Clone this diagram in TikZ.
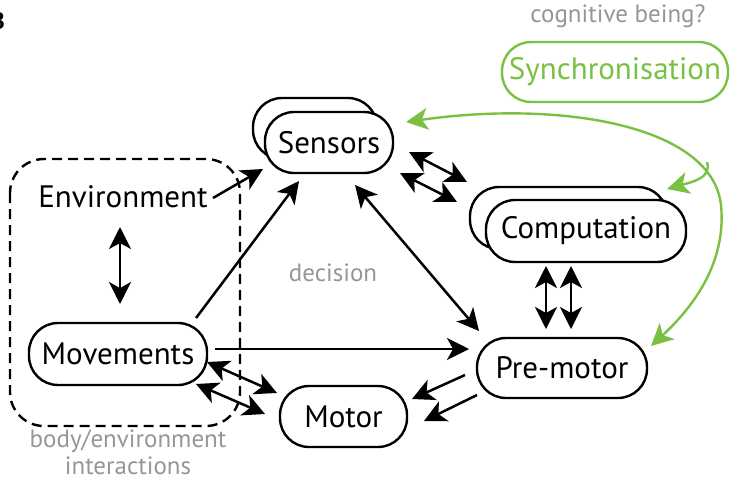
\documentclass[tikz,border=0pt]{standalone}
\usepackage{fontspec}
\setmainfont{PT Sans}
\usetikzlibrary{arrows.meta}
\definecolor{sgreen}{RGB}{122,193,67}
\definecolor{lgray}{RGB}{150,150,150}
\tikzset{
  tip/.tip={Stealth[length=22pt,width=22pt,inset=6pt]},
  boxn/.style={draw=black, line width=2.4pt, fill=white, rounded corners=29pt, inner sep=0pt, font=\fontsize{31}{34}\selectfont},
  backbox/.style={draw=black, line width=2.4pt, fill=white, rounded corners=29pt},
  lbl/.style={font=\fontsize{31}{34}\selectfont, inner sep=0pt},
  glbl/.style={font=\fontsize{25}{28}\selectfont, text=lgray, inner sep=0pt},
  arr/.style={line width=2.5pt, -tip},
  darr/.style={line width=2.5pt, tip-tip},
  garr/.style={line width=2.4pt, draw=sgreen, sgreen, -tip},
}
\begin{document}
\begin{tikzpicture}[x=1pt,y=-1pt]
\useasboundingbox (0,0) rectangle (734,483);
% fragment of panel letter
\node[anchor=east, font=\fontsize{24}{26}\selectfont\bfseries, inner sep=0pt] (letter) at (5,21) {B};
% dashed region
\draw[line width=2.4pt, dash pattern=on 10pt off 6pt, rounded corners=34pt] (10,159) rectangle (240,426);
% back boxes
\draw[backbox] (253,98) rectangle (377,159);
\draw[backbox] (470,187) rectangle (667,249);
% nodes
\node[boxn, minimum width=128pt, minimum height=61pt] (sens) at (329,142.5) {Sensors};
\node[boxn, minimum width=200pt, minimum height=62pt] (comp) at (586,231) {Computation};
\node[boxn, draw=sgreen, text=sgreen, minimum width=226pt, minimum height=60pt] (sync) at (615,72) {Synchronisation};
\node[boxn, minimum width=178pt, minimum height=62pt] (mov) at (118,354) {Movements};
\node[boxn, minimum width=170pt, minimum height=60pt] (prem) at (562,368) {Pre-motor};
\node[boxn, minimum width=127pt, minimum height=61pt] (mot) at (343.5,416.5) {Motor};
\node[lbl] (env) at (123,197) {Environment};
\node[glbl] (cog) at (618,16) {cognitive being?};
\node[glbl] (dec) at (333,273) {decision};
\node[glbl, align=center, font=\fontsize{25}{27}\selectfont] (body) at (128,452) {body/environment\\interactions};
% endpoints
\coordinate (envB) at (120,304); \coordinate (envT) at (120,227);
\coordinate (envR) at (213,198); \coordinate (sensL) at (263,169);
\coordinate (movTR) at (196,318); \coordinate (sensB) at (299,181);
\coordinate (movR) at (215,349); \coordinate (premL) at (469,349);
\coordinate (sensBR) at (355,185); \coordinate (premTL) at (479,331);
\coordinate (sc1a) at (409,152); \coordinate (sc1b) at (467,182);
\coordinate (sc2a) at (400,173); \coordinate (sc2b) at (457,202);
\coordinate (cp1a) at (546,266); \coordinate (cp1b) at (546,329);
\coordinate (cp2a) at (571,266); \coordinate (cp2b) at (571,329);
\coordinate (pm1a) at (465,375); \coordinate (pm1b) at (412,399);
\coordinate (pm2a) at (477,395); \coordinate (pm2b) at (424,421);
\coordinate (mm1a) at (207,362); \coordinate (mm1b) at (277,393);
\coordinate (mm2a) at (196,384); \coordinate (mm2b) at (265,414);
\coordinate (gS) at (406,122); \coordinate (gP) at (651,346);
\coordinate (gB) at (707,162); \coordinate (gC) at (667,189);
% arrows
\draw[darr] (envT) -- (envB);
\draw[arr] (envR) -- (sensL);
\draw[arr] (movTR) -- (sensB);
\draw[arr] (movR) -- (premL);
\draw[darr] (sensBR) -- (premTL);
\draw[darr] (sc1a) -- (sc1b);
\draw[darr] (sc2a) -- (sc2b);
\draw[darr] (cp1a) -- (cp1b);
\draw[darr] (cp2a) -- (cp2b);
\draw[arr] (pm1a) -- (pm1b);
\draw[arr] (pm2a) -- (pm2b);
\draw[darr] (mm1a) -- (mm1b);
\draw[darr] (mm2a) -- (mm2b);
% green synchronisation arrows
\draw[garr, tip-tip]
  (gS) .. controls (560,100) and (712,125) .. (721,205) .. controls (727,265) and (690,310) .. (gP);
\draw[garr] (gB) .. controls (712,178) and (692,182) .. (gC);
\end{tikzpicture}
\end{document}
